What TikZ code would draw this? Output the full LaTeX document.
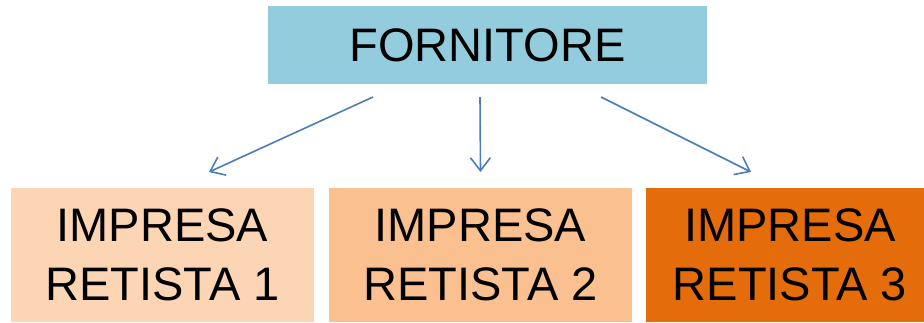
\documentclass[tikz,border=0pt]{standalone}
\usepackage{fontspec}
\setmainfont{Liberation Sans}
\usepackage{tikz}
\usetikzlibrary{arrows.meta, positioning}
\definecolor{fornblue}{HTML}{93CDDD}
\definecolor{impone}{HTML}{FCD5B5}
\definecolor{imptwo}{HTML}{FAC090}
\definecolor{impthree}{HTML}{E46C0A}
\definecolor{arrowblue}{HTML}{4A7EBB}
\tikzstyle{block}=[rectangle,inner sep=0pt,outer sep=0pt,align=center,text=black]
\tikzstyle{every node}=[font=\fontsize{47}{59}\selectfont]
\tikzstyle{link}=[draw=arrowblue,line width=1.6pt,-{Straight Barb[length=13pt,width=20pt]}]

\begin{document}
\begin{tikzpicture}[x=1pt,y=-1pt]
  \useasboundingbox (0,0) rectangle (924,322);
  \clip (0,0) rectangle (924,322);
  \node[block, fill=fornblue, minimum width=439pt, minimum height=78pt] (forn) at (487.5,45) {FORNITORE};
  \node[block, fill=impone, minimum width=303pt, minimum height=134pt] (imp1) at (162.5,255) {IMPRESA\\RETISTA 1};
  \node[block, fill=imptwo, minimum width=303pt, minimum height=134pt, right=15pt of imp1] (imp2) {IMPRESA\\RETISTA 2};
  \node[block, fill=impthree, minimum width=288pt, minimum height=134pt, right=14pt of imp2] (imp3) {IMPRESA\\RETISTA 3};
  \draw[link] ([xshift=-114.5pt,yshift=-13pt]forn.south) -- ([xshift=46.5pt,yshift=16pt]imp1.north);
  \draw[link] ([xshift=-7.5pt,yshift=-13pt]forn.south) -- ([yshift=16pt]imp2.north);
  \draw[link] ([xshift=113.5pt,yshift=-13pt]forn.south) -- ([xshift=-39pt,yshift=16pt]imp3.north);
\end{tikzpicture}
\end{document}
